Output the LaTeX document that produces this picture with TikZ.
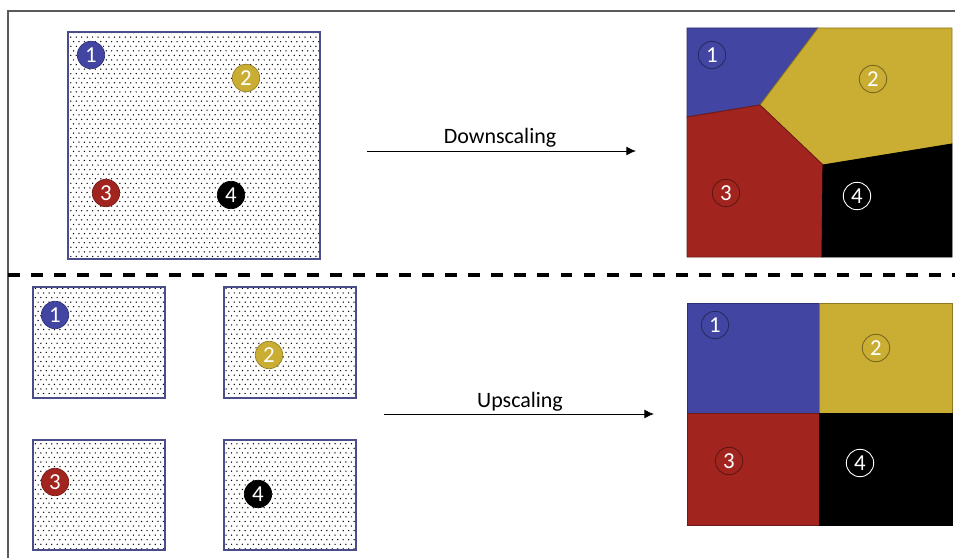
\documentclass[tikz,border=0pt]{standalone}
\usepackage{tikz}
\usepackage{xcolor}
\usepackage{fontspec}
\setmainfont{Carlito}
\usetikzlibrary{shapes,arrows.meta,positioning,calc,patterns.meta}

\definecolor{seedblue}{HTML}{4246A2}
\definecolor{seedyellow}{HTML}{CAAD33}
\definecolor{seedred}{HTML}{A1241F}
\definecolor{boxline}{HTML}{4B4C8A}
\definecolor{frameline}{HTML}{5A5A5A}

% staggered grid of tiny dots for the point clouds
\tikzdeclarepattern{
  name=speckle,
  type=uncolored,
  bottom left={(-.5pt,-.5pt)},
  top right={(2.1pt,3.3pt)},
  tile size={(3.1pt,5.2pt)},
  code={
    \fill (0pt,0pt) circle (.42pt);
    \fill (1.55pt,2.6pt) circle (.42pt);
  }
}

\begin{document}
\begin{tikzpicture}[x=0.2mm,y=-0.2mm,
    cloud/.style={draw=boxline,line width=0.9pt,pattern=speckle,pattern color=black},
    seed/.style={circle,draw=#1!75!black,fill=#1,line width=0.4pt,minimum size=15.6pt,inner sep=0pt,text=white,font=\fontsize{13}{15}\selectfont},
    cell/.style={circle,draw=#1,line width=0.5pt,minimum size=15.6pt,inner sep=0pt,text=white,font=\fontsize{13}{15}\selectfont},
    region/.style={fill=#1,draw=#1!70!black,line width=0.5pt},
    flow/.style={-{Latex[length=5.5pt,width=5pt]},line width=0.5pt},
    caption/.style={anchor=base,font=\fontsize{12.5}{15}\selectfont}]
    \useasboundingbox (0,0) rectangle (955,558);

    % frame and separator
    \draw[frameline,line width=1.1pt] (8,558) -- (8,11) -- (955,11);
    \draw[line width=2.3pt,dash pattern=on 6.8pt off 6.3pt] (8,275) -- (955,275);

    % one large point cloud
    \draw[cloud] (68,32) rectangle (320,259);
    \node[seed=seedblue] (p1) at (91,55) {1};
    \node[seed=seedyellow] (p2) at (246,78) {2};
    \node[seed=seedred] (p3) at (106,193) {3};
    \node[seed=black] (p4) at (231,195) {4};

    \coordinate (downA) at (367,151);
    \coordinate (downB) at (636,151);
    \draw[flow] (downA) -- (downB);
    \node[caption] (downlabel) at (500,143) {Downscaling};

    % voronoi cells
    \fill[region=seedblue] (687,28) -- (818,28) -- (760,105) -- (687,117) -- cycle;
    \fill[region=seedyellow] (818,28) -- (952,28) -- (952,144) -- (823,165) -- (760,105) -- cycle;
    \fill[region=seedred] (687,117) -- (760,105) -- (823,165) -- (822,257) -- (687,257) -- cycle;
    \fill[region=black] (823,165) -- (952,144) -- (952,257) -- (822,257) -- cycle;
    \node[cell=seedblue!60!black] (v1) at (712,55) {1};
    \node[cell=seedyellow!60!black] (v2) at (873,79) {2};
    \node[cell=seedred!60!black] (v3) at (726,193) {3};
    \node[cell=white] (v4) at (857,196) {4};

    % four small point clouds
    \draw[cloud] (33,287) rectangle (165,398);
    \draw[cloud] (224,287) rectangle (356,398);
    \draw[cloud] (33,440) rectangle (165,550);
    \draw[cloud] (224,440) rectangle (356,550);
    \node[seed=seedblue] (q1) at (55,315) {1};
    \node[seed=seedyellow] (q2) at (269,355) {2};
    \node[seed=seedred] (q3) at (55,482) {3};
    \node[seed=black] (q4) at (258,494) {4};

    \coordinate (upA) at (384,414);
    \coordinate (upB) at (654,414);
    \draw[flow] (upA) -- (upB);
    \node[caption] (uplabel) at (520,407) {Upscaling};

    % regular grid of cells
    \fill[region=seedblue] (687,303) rectangle (819,413);
    \fill[region=seedyellow] (819,303) rectangle (952,413);
    \fill[region=seedred] (687,413) rectangle (819,525);
    \fill[region=black] (819,413) rectangle (952,525);
    \node[cell=seedblue!60!black] (g1) at (715,325) {1};
    \node[cell=seedyellow!60!black] (g2) at (876,348) {2};
    \node[cell=seedred!60!black] (g3) at (729,461) {3};
    \node[cell=white] (g4) at (860,463) {4};
\end{tikzpicture}
\end{document}
